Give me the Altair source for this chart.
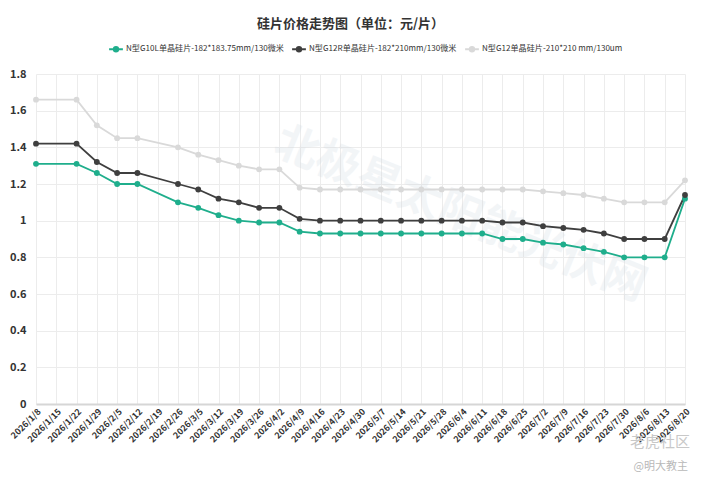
import altair as alt
import pandas as pd

dates = ["2026/1/8", "2026/1/15", "2026/1/22", "2026/1/29", "2026/2/5", "2026/2/12",
         "2026/2/19", "2026/2/26", "2026/3/5", "2026/3/12", "2026/3/19", "2026/3/26",
         "2026/4/2", "2026/4/9", "2026/4/16", "2026/4/23", "2026/4/30", "2026/5/7",
         "2026/5/14", "2026/5/21", "2026/5/28", "2026/6/4", "2026/6/11", "2026/6/18",
         "2026/6/25", "2026/7/2", "2026/7/9", "2026/7/16", "2026/7/23", "2026/7/30",
         "2026/8/6", "2026/8/13", "2026/8/20"]

series_names = ["N型G10L单晶硅片-182*183.75mm/130微米",
                "N型G12R单晶硅片-182*210mm/130微米",
                "N型G12单晶硅片-210*210 mm/130um"]
series_colors = ["#1fae8c", "#3f3f3f", "#d9d9d9"]

g10l = [1.31, None, 1.31, 1.26, 1.20, 1.20, None, 1.10, 1.07, 1.03, 1.00, 0.99,
        0.99, 0.94, 0.93, 0.93, 0.93, 0.93, 0.93, 0.93, 0.93, 0.93, 0.93, 0.90,
        0.90, 0.88, 0.87, 0.85, 0.83, 0.80, 0.80, 0.80, 1.12]
g12r = [1.42, None, 1.42, 1.32, 1.26, 1.26, None, 1.20, 1.17, 1.12, 1.10, 1.07,
        1.07, 1.01, 1.00, 1.00, 1.00, 1.00, 1.00, 1.00, 1.00, 1.00, 1.00, 0.99,
        0.99, 0.97, 0.96, 0.95, 0.93, 0.90, 0.90, 0.90, 1.14]
g12 = [1.66, None, 1.66, 1.52, 1.45, 1.45, None, 1.40, 1.36, 1.33, 1.30, 1.28,
       1.28, 1.18, 1.17, 1.17, 1.17, 1.17, 1.17, 1.17, 1.17, 1.17, 1.17, 1.17,
       1.17, 1.16, 1.15, 1.14, 1.12, 1.10, 1.10, 1.10, 1.22]

rows = []
for name, vals in zip(series_names, [g10l, g12r, g12]):
    for d, v in zip(dates, vals):
        if v is not None:
            rows.append({"date": d, "price": v, "series": name})
df = pd.DataFrame(rows)

FONT = "Noto Sans CJK SC"

legend_symbol = ("M-1,0H-0.3A0.3,0.3 0 1 1 0.3,0A0.3,0.3 0 1 1 -0.3,0"
                 "M0.3,0H1")

color_scale = alt.Scale(domain=series_names, range=series_colors)

color = alt.Color(
    "series:N",
    scale=color_scale,
    legend=alt.Legend(
        title=None, orient="none", direction="horizontal",
        legendX=72, legendY=-33,
        symbolType=legend_symbol, symbolSize=190, symbolStrokeWidth=2.2,
        labelFontSize=8.1, labelColor="#333333", labelFont=FONT,
        labelOffset=2, columnPadding=3, symbolOpacity=1, labelLimit=400,
    ),
)
fill = alt.Fill("series:N", scale=color_scale, legend=None)

x = alt.X(
    "date:O",
    sort=dates,
    scale=alt.Scale(type="point", domain=dates, padding=0),
    axis=alt.Axis(
        title=None, labelAngle=-45, labelFontSize=8.8, labelColor="#333333",
        labelFont=FONT, labelFontWeight=600, ticks=False, labelPadding=3,
        grid=True, gridColor="#ececec", domainColor="#d6d6d6", domainWidth=2,
        labelOverlap=False,
    ),
)
y = alt.Y(
    "price:Q",
    scale=alt.Scale(domain=[0, 1.8], nice=False),
    axis=alt.Axis(
        title=None, values=[0, 0.2, 0.4, 0.6, 0.8, 1.0, 1.2, 1.4, 1.6, 1.8],
        format=".1~f", labelFontSize=11, labelColor="#333333", labelFont=FONT,
        labelFontWeight=600, ticks=False, domain=False, labelPadding=10,
        gridColor="#ececec",
    ),
)

base = alt.Chart(df)
lines = base.mark_line(strokeWidth=1.8).encode(x=x, y=y, color=color)
points = base.mark_circle(size=34, opacity=1).encode(x=x, y=y, fill=fill)

watermark = alt.Chart(pd.DataFrame({"t": ["北极星太阳能光伏网"]})).mark_text(
    fontSize=44, font=FONT, fontWeight="bold", color="#c9d3dc", opacity=0.22,
    angle=22, align="center", baseline="middle",
).encode(text="t:N", x=alt.value(424), y=alt.value(141))

wm2 = alt.Chart(pd.DataFrame({"t": ["老虎社区"]})).mark_text(
    fontSize=15, font=FONT, color="#c8c8c8", align="right", baseline="middle",
).encode(text="t:N", x=alt.value(654), y=alt.value(368))

wm3 = alt.Chart(pd.DataFrame({"t": ["@明大教主"]})).mark_text(
    fontSize=11, font=FONT, color="#b8b8b8", align="right", baseline="middle",
).encode(text="t:N", x=alt.value(652), y=alt.value(393))

chart = alt.layer(watermark, lines, points, wm2, wm3).properties(
    width=649, height=330,
    autosize=alt.AutoSizeParams(type="none"),
    padding={"left": 28, "top": 66, "right": 8, "bottom": 72},
    title=alt.TitleParams(
        "硅片价格走势图（单位：元/片）", fontSize=13, fontWeight="bold",
        color="#333333", font=FONT, anchor="middle", offset=10, dx=-10,
    ),
).configure_view(stroke=None)

chart.save("out.html", embed_options={"renderer": "svg", "actions": False})
